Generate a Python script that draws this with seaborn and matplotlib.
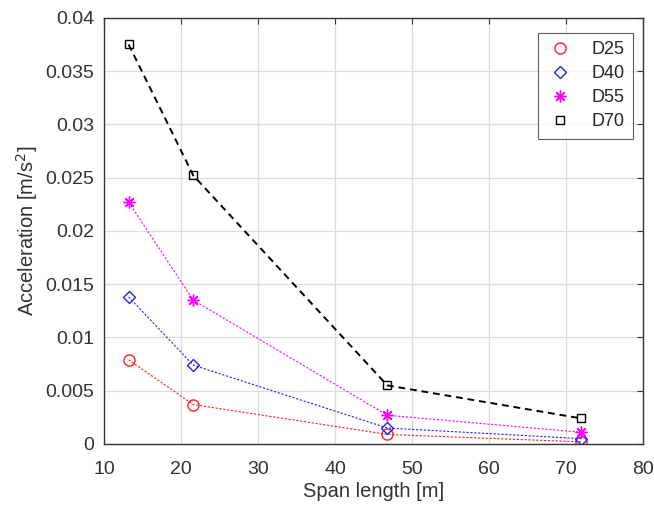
import pandas as pd
import seaborn as sns
import matplotlib.pyplot as plt
from matplotlib.lines import Line2D

# Values
span = [13.2, 21.6, 46.8, 72.0]
d25 = [0.0079, 0.0037, 0.0009, 0.0002]
d40 = [0.0138, 0.0074, 0.0015, 0.0005]
d55 = [0.0227, 0.0135, 0.0027, 0.0011]
d70 = [0.0375, 0.0252, 0.0055, 0.0024]
labels = ['D25', 'D40', 'D55', 'D70']

df = pd.DataFrame({
    'span': span * 4,
    'acc': d25 + d40 + d55 + d70,
    'case': [l for l in labels for _ in span],
})

sns.set_style('white')
plt.rcParams['font.family'] = ['Liberation Sans', 'DejaVu Sans']

fig = plt.figure(figsize=(6.54, 5.08), dpi=100)
ax = fig.add_axes([0.159, 0.126, 0.824, 0.839])

star = (8, 2, 0)  # matlab-like asterisk
styles = {
    'D25': dict(color='#ff2020', marker='o', ls=(0, (2, 1.5)), lw=0.8, ms=8),
    'D40': dict(color='#2020ff', marker='D', ls=(0, (2, 1.5)), lw=0.8, ms=6.5),
    'D55': dict(color='#ff00ff', marker=star, ls=(0, (2, 1.5)), lw=0.8, ms=8.5),
    'D70': dict(color='black', marker='s', ls=(0, (3.5, 2.5)), lw=1.4, ms=6),
}

for lab in labels:
    s = styles[lab]
    sub = df[df['case'] == lab]
    sns.lineplot(data=sub, x='span', y='acc', ax=ax, color=s['color'],
                 linestyle=s['ls'], linewidth=s['lw'], legend=False)
    ax.plot(sub['span'], sub['acc'], ls='none', marker=s['marker'],
            ms=s['ms'], mfc='none', mec=s['color'], mew=1.0)

ax.set_xlim(10, 80)
ax.set_ylim(0, 0.04)
ax.set_xticks(range(10, 81, 10))
ax.set_yticks([0, 0.005, 0.01, 0.015, 0.02, 0.025, 0.03, 0.035, 0.04])
ax.set_yticklabels(['0', '0.005', '0.01', '0.015', '0.02', '0.025', '0.03', '0.035', '0.04'])
ax.grid(True, color='#dcdcdc', linewidth=0.9)
ax.tick_params(direction='in', length=4, labelsize=14, colors='#333333',
               top=True, right=True, width=0.8)
ax.tick_params(axis='x', pad=12)
ax.tick_params(axis='y', pad=7)
for sp in ax.spines.values():
    sp.set_color('#333333')
    sp.set_linewidth(1.0)

ax.set_xlabel('Span length [m]', fontsize=14.5, color='#333333', labelpad=3)
ax.set_ylabel('Acceleration [m/s$^2$]', fontsize=14.5, color='#333333', labelpad=4)

handles = [Line2D([], [], ls='none', marker=styles[l]['marker'], ms=styles[l]['ms'],
                  mfc='none', mec=styles[l]['color'], mew=1.0) for l in labels]
leg = ax.legend(handles, labels, loc='upper right', bbox_to_anchor=(0.981, 0.965),
                fontsize=13, frameon=True, fancybox=False, handlelength=1.5,
                handletextpad=1.0, borderpad=0.45, labelspacing=0.4,
                borderaxespad=0)
leg.get_frame().set_edgecolor('#333333')
leg.get_frame().set_linewidth(0.8)

plt.savefig('out.png', dpi=100)
